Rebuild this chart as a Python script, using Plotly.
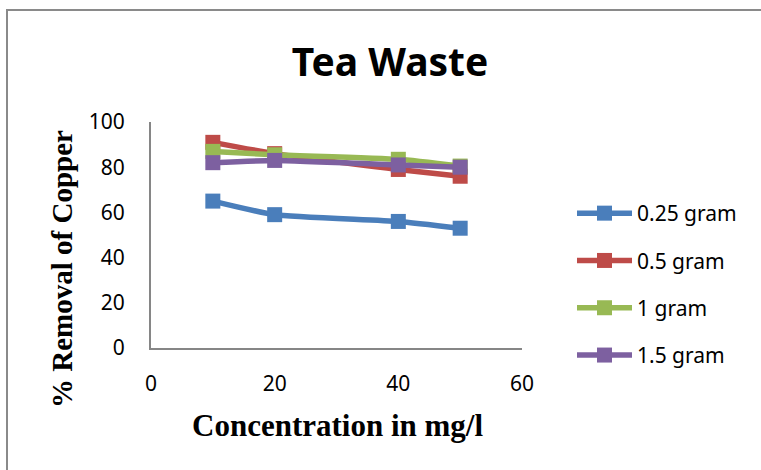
import plotly.graph_objects as go

concentration = [10, 20, 40, 50]
series_names = ["0.25 gram", "0.5 gram", "1 gram", "1.5 gram"]
removal_025 = [65, 59, 56, 53]
removal_05 = [91, 86, 79, 76]
removal_1 = [87, 85.5, 83.5, 80.5]
removal_15 = [82, 83, 81, 80]
series_values = [removal_025, removal_05, removal_1, removal_15]
colors = ["#4A7EBB", "#BE4B48", "#98B954", "#7D60A0"]
x_ticks = [0, 20, 40, 60]
y_ticks = [0, 20, 40, 60, 80, 100]

SANS = "Noto Sans, Open Sans, sans-serif"
SERIF = "Liberation Serif, Times New Roman, serif"

fig = go.Figure()
for i, (name, vals, col) in enumerate(zip(series_names, series_values, colors)):
    fig.add_trace(go.Scatter(
        x=concentration, y=vals, name=name, mode="lines+markers",
        line=dict(color=col, width=5.5, shape="spline", smoothing=0.5),
        marker=dict(symbol="square", size=15, color=col),
        legendgroup=f"g{i}",
    ))

L, R, T, B = 151, 522, 122, 348
W, H = 761, 470
pw, ph = R - L, B - T

def px(x):
    return (x - L) / pw

def py(y):
    return (B - y) / ph

fig.update_layout(
    width=W, height=H,
    margin=dict(l=L, r=W - R, t=T, b=H - B, autoexpand=False),
    paper_bgcolor="white", plot_bgcolor="white",
    showlegend=True,
    legend=dict(
        x=px(572), y=py(193), xanchor="left", yanchor="top",
        font=dict(family=SANS, size=21, color="#000"),
        tracegroupgap=17, itemwidth=55, bgcolor="rgba(0,0,0,0)",
    ),
    title=dict(
        text="<b>Tea Waste</b>", x=390 / W, xanchor="center",
        y=1 - 62 / H, yanchor="middle", yref="container",
        font=dict(family=SANS, size=39, color="#000"),
    ),
    xaxis=dict(
        range=[0, 60], tickvals=x_ticks, showgrid=False, zeroline=False,
        showline=True, linecolor="#868686", linewidth=2,
        ticks="outside", ticklen=16, tickcolor="rgba(0,0,0,0)",
        tickfont=dict(family=SANS, size=21, color="#000"),
    ),
    yaxis=dict(
        range=[0, 100], tickvals=y_ticks, showgrid=False, zeroline=False,
        showline=True, linecolor="#868686", linewidth=2,
        ticks="outside", ticklen=20, tickcolor="rgba(0,0,0,0)",
        tickfont=dict(family=SANS, size=21, color="#000"),
    ),
    annotations=[
        dict(text="<b>Concentration in mg/l</b>", xref="paper", yref="paper",
             x=px(337), y=py(425), xanchor="center", yanchor="middle", showarrow=False,
             font=dict(family=SERIF, size=31, color="#000")),
        dict(text="<b>% Removal of Copper</b>", xref="paper", yref="paper",
             x=px(62), y=py(269), xanchor="center", yanchor="middle", showarrow=False,
             textangle=-90,
             font=dict(family=SERIF, size=29, color="#000")),
    ],
    shapes=[
        dict(type="rect", xref="paper", yref="paper",
             x0=px(7), x1=px(780), y0=py(490), y1=py(10),
             line=dict(color="#8A8A8A", width=2), fillcolor="rgba(0,0,0,0)", layer="below"),
    ],
)

fig.write_html("out.html")
